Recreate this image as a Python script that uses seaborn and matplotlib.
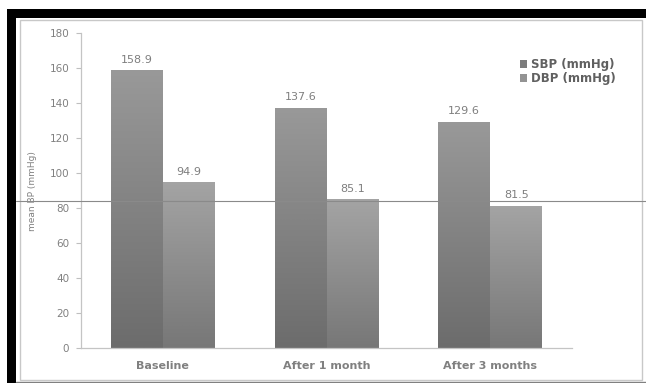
import numpy as np
import pandas as pd
import matplotlib
matplotlib.use("Agg")
import matplotlib.pyplot as plt
import seaborn as sns
from matplotlib.patches import Rectangle, Patch
from matplotlib.lines import Line2D
from matplotlib.colors import LinearSegmentedColormap

categories = ["Baseline", "After 1 month", "After 3 months"]
series_names = ["SBP (mmHg)", "DBP (mmHg)"]
sbp_values = [158.9, 137.6, 129.6]
dbp_values = [94.9, 85.1, 81.5]
y_ticks = [0, 20, 40, 60, 80, 100, 120, 140, 160, 180]
y_label = "mean BP (mmHg)"

df = pd.DataFrame({
    "category": categories * 2,
    "series": [series_names[0]] * 3 + [series_names[1]] * 3,
    "value": sbp_values + dbp_values,
})

sns.set_theme(style="white")
plt.rcParams['font.family'] = ['DejaVu Sans']

W, H = 646, 383
fig = plt.figure(figsize=(W / 100, H / 100), dpi=100)
fig.patch.set_facecolor("white")

def fx(px):
    return px / W

def fy(py):
    return 1 - py / H

ax = fig.add_axes([fx(81), fy(348.3), fx(572) - fx(81), fy(33.3) - fy(348.3)])
ax.set_facecolor("none")

top_cols = {"SBP (mmHg)": "#999999", "DBP (mmHg)": "#a4a4a4"}
bot_cols = {"SBP (mmHg)": "#6c6c6c", "DBP (mmHg)": "#777777"}
leg_cols = {"SBP (mmHg)": "#7c7c7c", "DBP (mmHg)": "#939393"}

sns.barplot(data=df, x="category", y="value", hue="series", order=categories,
            hue_order=series_names, palette=[leg_cols[s] for s in series_names],
            width=0.635, gap=0, ax=ax, legend=False, saturation=1, linewidth=0)

# gradient fill on each bar (light at top, dark at bottom)
for cont, name in zip(ax.containers, series_names):
    cmap = LinearSegmentedColormap.from_list(name, [bot_cols[name], top_cols[name]])
    grad = np.linspace(0, 1, 256).reshape(-1, 1)
    for p in cont.patches:
        x0, y0 = p.get_x(), p.get_y()
        w, h = p.get_width(), p.get_height()
        im = ax.imshow(grad, cmap=cmap, origin="lower", aspect="auto",
                       extent=[x0, x0 + w, y0, y0 + h], zorder=p.get_zorder() + 0.1)
        im.set_clip_path(p)
    ax.bar_label(cont, labels=[f"{v:.1f}" for v in cont.datavalues], padding=4,
                 fontsize=8, color="#7f7f7f")

ax.set_ylim(0, 180)
ax.set_xlim(-0.5, 2.5)

ax.set_yticks(y_ticks)
ax.set_yticklabels([str(t) for t in y_ticks])
ax.set_xticks(range(len(categories)))
ax.set_xticklabels(categories, fontweight="bold")
ax.set_xticks([-0.5, 0.5, 1.5, 2.5], minor=True)
ax.tick_params(axis="x", which="major", length=0, pad=9, labelsize=8, labelcolor="#808080")
ax.tick_params(axis="x", which="minor", length=3, width=0.8, color="#bfbfbf", direction="out")
ax.tick_params(axis="y", length=3.5, width=0.8, color="#bfbfbf", direction="out",
               pad=5, labelsize=7.5, labelcolor="#808080", left=True)
ax.set_xlabel("")
ax.set_ylabel(y_label, fontsize=6.5, color="#808080", labelpad=9)
for s in ["top", "right"]:
    ax.spines[s].set_visible(False)
for s in ["left", "bottom"]:
    ax.spines[s].set_color("#c4c4c4")
    ax.spines[s].set_linewidth(0.9)

handles = [Patch(facecolor=leg_cols[s], edgecolor="none", label=s) for s in series_names]
leg = fig.legend(handles=handles, loc="upper left", bbox_to_anchor=(fx(520), fy(58)),
                 frameon=False, fontsize=8.5, handlelength=0.6, handleheight=0.6,
                 handletextpad=0.35, labelspacing=0.1, borderaxespad=0, borderpad=0)
for t in leg.get_texts():
    t.set_color("#606060")
    t.set_fontweight("bold")

# frame decorations
fig.add_artist(Rectangle((fx(20), fy(379.5)), fx(642) - fx(20), fy(20) - fy(379.5),
                         transform=fig.transFigure, facecolor="none",
                         edgecolor="#c8c8c8", linewidth=1.0, zorder=0))
fig.add_artist(Rectangle((fx(7), fy(17.5)), fx(646) - fx(7), fy(9) - fy(17.5),
                         transform=fig.transFigure, facecolor="black",
                         edgecolor="none", zorder=5))
fig.add_artist(Rectangle((fx(7), fy(383)), fx(16) - fx(7), fy(9) - fy(383),
                         transform=fig.transFigure, facecolor="black",
                         edgecolor="none", zorder=5))
fig.add_artist(Line2D([fx(16), 1], [fy(381.7), fy(381.7)], transform=fig.transFigure,
                      color="#808080", linewidth=1.0, zorder=5))
fig.add_artist(Line2D([fx(16), 1], [fy(200.7), fy(200.7)], transform=fig.transFigure,
                      color="#8a8a8a", linewidth=0.8, zorder=6))

fig.savefig("out.png", dpi=100, facecolor="white")
